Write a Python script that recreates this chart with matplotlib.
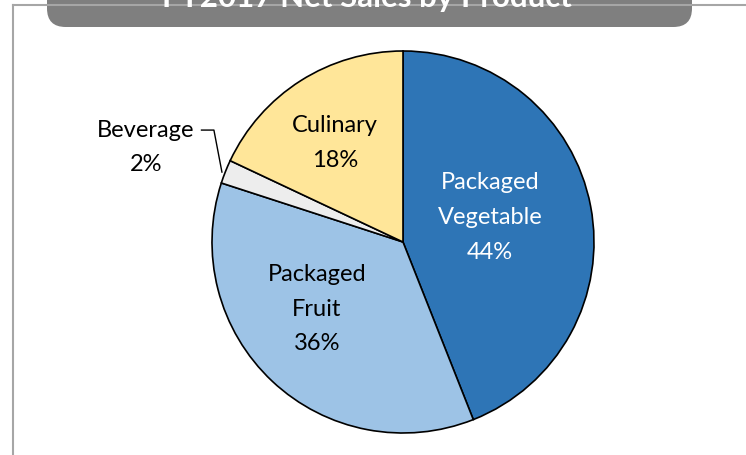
import matplotlib

matplotlib.use("Agg")

import matplotlib.pyplot as plt
from matplotlib.patches import FancyBboxPatch
from matplotlib.lines import Line2D

# Datos del gráfico
productos = ["Packaged\nVegetable", "Packaged\nFruit", "Beverage", "Culinary"]
porcentajes = [44, 36, 2, 18]
colores = ["#2e75b6", "#9dc3e6", "#ededed", "#ffe699"]
color_texto = ["white", "black", "black", "black"]
titulo = "FY2017 Net Sales by Product"

plt.rcParams["font.family"] = ["Lato", "DejaVu Sans"]

fig = plt.figure(figsize=(7.46, 4.55), dpi=100)
W, H = 746, 455

# Marco exterior
fig.add_artist(Line2D([13 / W, 13 / W], [0, 1 - 5 / H], color="#a6a6a6", lw=1.5))
fig.add_artist(Line2D([13 / W, 1], [1 - 5 / H, 1 - 5 / H], color="#a6a6a6", lw=1.5))

# Caja del título
caja = FancyBboxPatch(
    (47 / W, 1 - 27 / H), (692 - 47) / W, 60 / H,
    boxstyle="round,pad=0,rounding_size=0.025",
    transform=fig.transFigure,
    facecolor="#7f7f7f",
    edgecolor="none",
    mutation_aspect=W / H,
)
fig.add_artist(caja)
fig.text(367 / W, 1 - 7 / H, titulo, color="white", fontsize=22.5,
         fontweight="bold", ha="center", va="baseline")

# Pastel
ax = fig.add_axes([(403 - 191) / W, (H - 242 - 191) / H, 382 / W, 382 / H])
wedges, _ = ax.pie(
    porcentajes,
    colors=colores,
    startangle=90,
    counterclock=False,
    wedgeprops={"edgecolor": "black", "linewidth": 1.2},
)
ax.set_xlim(-1, 1)
ax.set_ylim(-1, 1)
ax.set_aspect("equal")

# Etiquetas
pos = {0: (0.455, 0.128), 1: (-0.45, -0.351), 3: (-0.356, 0.518)}
for i, p in pos.items():
    ax.text(p[0], p[1], f"{productos[i]}\n{porcentajes[i]}%",
            ha="center", va="center", fontsize=17, linespacing=1.8,
            color=color_texto[i])

# Beverage fuera del pastel con línea guía
ax.text(-1.345, 0.495, f"{productos[2]}\n{porcentajes[2]}%", ha="center",
        va="center", fontsize=17, linespacing=1.8, color="black")
ax.plot([-1.055, -0.99, -0.948], [0.586, 0.586, 0.366], color="black", lw=1,
        clip_on=False)

fig.savefig("out.png", dpi=100)
plt.close(fig)
